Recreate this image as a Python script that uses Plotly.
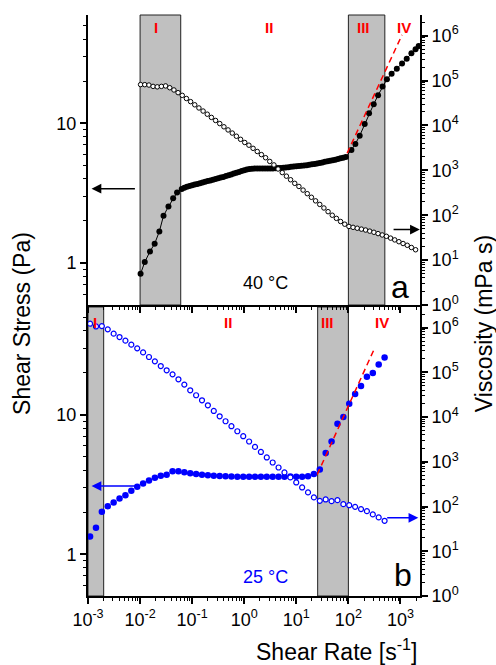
import math
import plotly.graph_objects as go

# ---------------- Panel a : 40 °C ----------------
RATE_40_STRESS = [0.01023, 0.0123, 0.01549, 0.01905, 0.02344, 0.02818, 0.03508, 0.04315, 0.05129,
                  0.0631, 0.0708, 0.0794, 0.0891, 0.1, 0.1122, 0.1259, 0.1413, 0.1585, 0.1778,
                  0.1995, 0.2239, 0.2512, 0.2818, 0.3162, 0.3548, 0.3981, 0.4467, 0.5012, 0.5623,
                  0.631, 0.7079, 0.7943, 0.8913,
                  1.0, 1.122, 1.259, 1.413, 1.585, 1.778, 1.995, 2.239, 2.512, 2.818,
                  3.162, 3.548, 3.981, 4.467, 5.012, 5.623, 6.31, 7.079, 7.943, 8.913,
                  10.0, 11.22, 12.59, 14.13, 15.85, 17.78, 19.95, 22.39, 25.12, 28.18,
                  31.62, 35.48, 39.81, 44.67, 50.12, 56.23, 63.1, 70.79, 79.43, 89.13,
                  114.3, 136.1, 164.8, 205.6, 249.5, 306.2, 371.5, 451.9, 549.5, 676.1,
                  851.1, 1072, 1318, 1622, 1950, 2239]
STRESS_40 = [0.839, 1.016, 1.211, 1.374, 1.683, 2.178, 2.535, 2.911, 3.192,
             3.388, 3.451, 3.508, 3.556, 3.597, 3.639, 3.681, 3.724, 3.767, 3.811,
             3.855, 3.899, 3.945, 3.990, 4.036, 4.083, 4.130, 4.188, 4.246, 4.305,
             4.365, 4.426, 4.487, 4.550,
             4.613, 4.667, 4.710, 4.732, 4.742, 4.742, 4.742, 4.742, 4.742, 4.742,
             4.753, 4.753, 4.764, 4.775, 4.786, 4.808, 4.831, 4.853, 4.875, 4.898,
             4.920, 4.943, 4.966, 4.989, 5.012, 5.047, 5.082, 5.117, 5.152, 5.200,
             5.248, 5.297, 5.346, 5.383, 5.433, 5.483, 5.546, 5.610, 5.675, 5.741,
             6.442, 7.112, 8.147, 9.886, 11.78, 13.68, 15.85, 18.32, 20.65, 22.59,
             24.55, 26.73, 28.97, 31.62, 33.88, 35.65]

RATE_40_VISC = [0.01023, 0.0123, 0.01479, 0.01778, 0.02138, 0.0257, 0.0309, 0.03715, 0.04467, 0.0537,
                0.06457, 0.07762, 0.09333, 0.1122, 0.1349, 0.1622, 0.195, 0.2344, 0.2818, 0.3388,
                0.4074, 0.4898, 0.5888, 0.7079, 0.8511, 1.023, 1.23, 1.479, 1.778, 2.138,
                2.57, 3.09, 3.715, 4.467, 5.37, 6.457, 7.762, 9.333, 11.22, 13.49,
                16.22, 19.5, 23.44, 28.18, 33.88, 40.74, 48.98, 58.88, 70.79, 85.11,
                102.3, 123.0, 147.9, 177.8, 213.8, 257.0, 309.0, 371.5, 446.7, 537.0,
                645.7, 776.2, 933.3, 1122, 1349, 1622, 1950]
VISC_40 = [81300, 80900, 79400, 74100, 72400, 74100, 75900, 69200, 61700, 53700,
           46800, 39800, 33900, 28800, 24500, 20900, 17800, 15100, 12900, 11000,
           9330, 7940, 6760, 5750, 4900, 4170, 3630, 3090, 2630, 2240,
           1910, 1580, 1320, 1070, 891, 741, 617, 513, 437, 363,
           302, 251, 209, 174, 145, 120, 100, 85.1, 72.4, 63.1,
           56.2, 53.7, 51.3, 49.0, 46.8, 44.2, 41.7, 38.9, 36.3, 33.9,
           30.9, 28.2, 25.7, 23.4, 21.4, 19.1, 17.0]

# ---------------- Panel b : 25 °C ----------------
RATE_25 = [0.001096, 0.001423, 0.001846, 0.002395, 0.003108, 0.004032, 0.005232, 0.006788, 0.008808, 0.01143,
           0.01483, 0.01924, 0.02496, 0.03239, 0.04202, 0.05452, 0.07074, 0.09178, 0.1191, 0.1545,
           0.2004, 0.2601, 0.3374, 0.4378, 0.568, 0.7371, 0.9564, 1.241, 1.61, 2.089,
           2.71, 3.517, 4.563, 5.921, 7.682, 9.966, 12.93, 16.78, 21.77, 28.24,
           36.64, 47.54, 61.68, 80.03, 103.8, 134.7, 174.8, 226.8, 294.3, 381.8,
           495.5]
STRESS_25 = [1.34, 1.55, 2.02, 2.21, 2.35, 2.51, 2.65, 2.85, 3.05, 3.21,
             3.38, 3.53, 3.65, 3.71, 3.94, 3.94, 3.87, 3.81, 3.77, 3.72,
             3.68, 3.66, 3.64, 3.63, 3.61, 3.60, 3.59, 3.60, 3.60, 3.59,
             3.60, 3.60, 3.59, 3.60, 3.61, 3.60, 3.60, 3.62, 3.77, 4.05,
             5.32, 6.44, 8.63, 9.64, 12.0, 14.1, 16.1, 18.8, 20.0, 23.0,
             25.8]
VISC_25 = [1.22e6, 1.06e6, 1.08e6, 9.12e5, 7.31e5, 6.14e5, 5.10e5, 4.15e5, 3.43e5, 2.79e5,
           2.20e5, 1.76e5, 1.38e5, 1.11e5, 9.02e4, 6.98e4, 5.31e4, 3.96e4, 3.07e4, 2.37e4,
           1.83e4, 1.37e4, 1.04e4, 8050, 6240, 4820, 3730, 2840, 2150, 1660,
           1250, 964, 746, 577, 447, 345, 267, 207, 160, 134,
           144, 132, 139, 113, 107, 98.4, 87.5, 78.9, 66.7, 57.1,
           48.0]

# shaded regions (shear-rate limits) and power-law guide lines
BANDS_40 = [(0.01, 0.0603), (100, 501)]
BANDS_25 = [(0.001, 0.002), (25.7, 100)]
FIT_40_RATE = [94.5, 1070]
FIT_40_STRESS = [6.1, 42.8]
FIT_25_RATE = [25.2, 306]
FIT_25_STRESS = [3.73, 29.1]

REGION_NAMES = ["I", "II", "III", "IV"]
REGION_X_40 = [0.0205, 2.95, 197, 1148]
REGION_X_25 = [0.00139, 0.49, 39.5, 450]

X_TICKS = [1e-3, 1e-2, 1e-1, 1e0, 1e1, 1e2, 1e3]
X_TICKTEXT = ["10<sup>-3</sup>", "10<sup>-2</sup>", "10<sup>-1</sup>", "10<sup>0</sup>",
              "10<sup>1</sup>", "10<sup>2</sup>", "10<sup>3</sup>"]
S_TICKS = [1, 10]
S_TICKTEXT = ["1", "10"]
V_TICKS = [1, 10, 100, 1e3, 1e4, 1e5, 1e6]
V_TICKTEXT = ["10<sup>0</sup>", "10<sup>1</sup>", "10<sup>2</sup>", "10<sup>3</sup>",
              "10<sup>4</sup>", "10<sup>5</sup>", "10<sup>6</sup>"]

BLUE = "#0000FF"
RED = "#FF0000"
FONT = "Liberation Sans, Arial, sans-serif"
lg = math.log10

minor_x = [m * 10.0 ** d for d in range(-3, 4) for m in range(2, 10)]
minor_s = [m * 10.0 ** d for d in range(-1, 2) for m in range(2, 10)]
minor_v = [m * 10.0 ** d for d in range(0, 7) for m in range(2, 10)]

fig = go.Figure()

# ---- panel a traces
fig.add_trace(go.Scatter(x=RATE_40_STRESS, y=STRESS_40, xaxis="x", yaxis="y", mode="lines+markers",
                         line=dict(color="black", width=1),
                         marker=dict(color="black", size=6, line=dict(width=0))))
fig.add_trace(go.Scatter(x=FIT_40_RATE, y=FIT_40_STRESS, xaxis="x", yaxis="y", mode="lines",
                         line=dict(color=RED, width=1.5, dash="6px,4px")))
fig.add_trace(go.Scatter(x=RATE_40_VISC, y=VISC_40, xaxis="x", yaxis="y2", mode="markers",
                         marker=dict(color="white", size=4.5, line=dict(color="black", width=1))))

# ---- panel b traces
fig.add_trace(go.Scatter(x=RATE_25, y=STRESS_25, xaxis="x2", yaxis="y3", mode="markers",
                         marker=dict(color=BLUE, size=6.5, line=dict(width=0))))
fig.add_trace(go.Scatter(x=FIT_25_RATE, y=FIT_25_STRESS, xaxis="x2", yaxis="y3", mode="lines",
                         line=dict(color=RED, width=1.5, dash="6px,4px")))
fig.add_trace(go.Scatter(x=RATE_25, y=VISC_25, xaxis="x2", yaxis="y4", mode="markers",
                         marker=dict(color="white", size=5, line=dict(color=BLUE, width=1.2))))

shapes = []
for x0, x1 in BANDS_40:
    shapes.append(dict(type="rect", xref="x", yref="y domain", x0=x0, x1=x1, y0=0, y1=1,
                       fillcolor="#C0C0C0", line=dict(color="#222222", width=1), layer="below"))
for x0, x1 in BANDS_25:
    shapes.append(dict(type="rect", xref="x2", yref="y3 domain", x0=x0, x1=x1, y0=0, y1=1,
                       fillcolor="#C0C0C0", line=dict(color="#222222", width=1), layer="below"))

ann = []
def arrow(xref, yref, xh, yh, xt, yt, color):
    ann.append(dict(xref=xref, yref=yref, axref=xref, ayref=yref, x=lg(xh), y=lg(yh), ax=lg(xt), ay=lg(yt),
                    text="", showarrow=True, arrowhead=2, arrowsize=1.3, arrowwidth=1.5,
                    arrowcolor=color, standoff=0, startstandoff=0))

arrow("x", "y", 0.00117, 3.4, 0.0085, 3.4, "black")
arrow("x", "y2", 2350, 47.9, 690, 47.9, "black")
arrow("x2", "y3", 0.00117, 3.08, 0.0088, 3.08, BLUE)
arrow("x2", "y4", 2200, 56, 520, 56, BLUE)

for name, xv in zip(REGION_NAMES, REGION_X_40):
    ann.append(dict(xref="x", yref="y domain", x=lg(xv), y=0.956, text="<b>%s</b>" % name, showarrow=False,
                    font=dict(family=FONT, size=15, color=RED), xanchor="center", yanchor="middle"))
for name, xv in zip(REGION_NAMES, REGION_X_25):
    ann.append(dict(xref="x2", yref="y3 domain", x=lg(xv), y=0.946, text="<b>%s</b>" % name, showarrow=False,
                    font=dict(family=FONT, size=15, color=RED), xanchor="center", yanchor="middle"))

ann.append(dict(xref="x", yref="y domain", x=0.399, y=0.076, text="40 °C", showarrow=False,
                xanchor="center", yanchor="middle", font=dict(family=FONT, size=18, color="black")))
ann.append(dict(xref="x2", yref="y3 domain", x=0.399, y=0.066, text="25 °C", showarrow=False,
                xanchor="center", yanchor="middle", font=dict(family=FONT, size=18, color=BLUE)))
ann.append(dict(xref="x", yref="y domain", x=2.99, y=0.062, text="a", showarrow=False,
                xanchor="center", yanchor="middle", font=dict(family=FONT, size=32, color="black")))
ann.append(dict(xref="x2", yref="y3 domain", x=3.05, y=0.072, text="b", showarrow=False,
                xanchor="center", yanchor="middle", font=dict(family=FONT, size=32, color="black")))

ann.append(dict(xref="paper", yref="paper", x=-0.1988, y=0.470, text="Shear Stress (Pa)", textangle=-90,
                xanchor="center", yanchor="middle",
                showarrow=False, font=dict(family=FONT, size=23, color="black")))
ann.append(dict(xref="paper", yref="paper", x=1.193, y=0.468, text="Viscosity (mPa s)", textangle=-90,
                xanchor="center", yanchor="middle",
                showarrow=False, font=dict(family=FONT, size=23, color="black")))
ann.append(dict(xref="paper", yref="paper", x=0.997, y=-0.093, text="Shear Rate [s<sup>-1</sup>]",
                xanchor="right", yanchor="middle", showarrow=False, font=dict(family=FONT, size=23, color="black")))

tickfont = dict(family=FONT, size=18, color="black")
base_x = dict(type="log", range=[-3, 3.375], showgrid=False, zeroline=False, showline=True,
              linecolor="black", linewidth=2, ticks="outside", ticklen=6, tickwidth=1.5, tickcolor="black",
              tickmode="array", tickvals=X_TICKS, ticktext=X_TICKTEXT, tickfont=tickfont,
              minor=dict(ticks="outside", ticklen=3, tickwidth=1, tickcolor="black", tickmode="array",
                         tickvals=minor_x))
base_s = dict(type="log", range=[-0.3, 1.774], showgrid=False, zeroline=False, showline=True,
              linecolor="black", linewidth=2, ticks="outside", ticklen=6, tickwidth=1.5, tickcolor="black",
              tickmode="array", tickvals=S_TICKS, ticktext=S_TICKTEXT, tickfont=tickfont,
              minor=dict(ticks="outside", ticklen=3, tickwidth=1, tickcolor="black", tickmode="array",
                         tickvals=minor_s))
base_v = dict(type="log", range=[0, 6.46], showgrid=False, zeroline=False, showline=True,
              linecolor="black", linewidth=2, ticks="outside", ticklen=6, tickwidth=1.5, tickcolor="black",
              tickmode="array", tickvals=V_TICKS, ticktext=V_TICKTEXT, tickfont=tickfont, side="right",
              minor=dict(ticks="outside", ticklen=3, tickwidth=1, tickcolor="black", tickmode="array",
                         tickvals=minor_v))

top_dom = [0.50086, 1.0]
bot_dom = [0.0, 0.49742]

fig.update_layout(
    width=496, height=665, autosize=False,
    margin=dict(l=88, r=76, t=15, b=69, pad=0),
    paper_bgcolor="white", plot_bgcolor="white", showlegend=False,
    font=dict(family=FONT, color="black"),
    xaxis=dict(base_x, anchor="y", domain=[0, 1], showticklabels=False),
    xaxis3=dict(base_x, overlaying="x", anchor="y", side="top", showticklabels=False, ticks="inside",
                minor=dict(ticks="inside", ticklen=3, tickwidth=1, tickcolor="black", tickmode="array",
                           tickvals=minor_x)),
    xaxis2=dict(base_x, anchor="y3", domain=[0, 1], mirror=True),
    yaxis=dict(base_s, anchor="x", domain=top_dom),
    yaxis2=dict(base_v, anchor="x", overlaying="y"),
    yaxis3=dict(base_s, anchor="x2", domain=bot_dom),
    yaxis4=dict(base_v, anchor="x2", overlaying="y3"),
    shapes=shapes,
    annotations=ann,
)

fig.write_html("out.html")
